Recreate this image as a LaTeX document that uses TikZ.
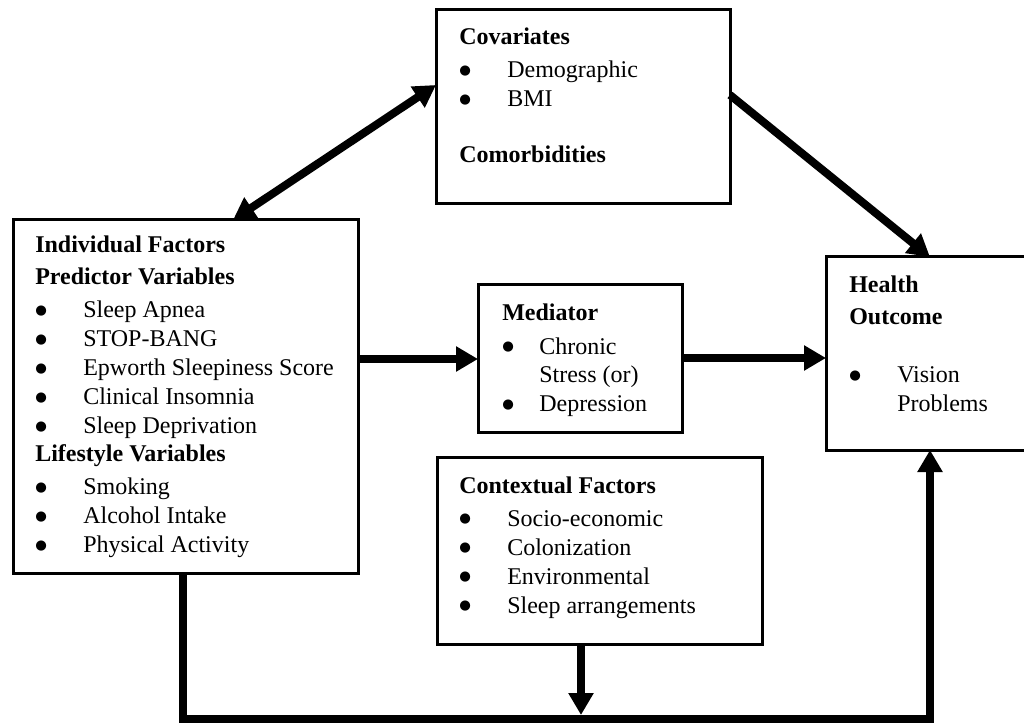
\documentclass[tikz,border=0pt]{standalone}
\usepackage{fontspec}
\setmainfont{Liberation Serif}
\newfontfamily\symf{DejaVu Sans}
\usetikzlibrary{arrows.meta,fit}
\newcommand\hd[1]{\hbox{\bfseries #1}}
\newcommand\bigbul{\raisebox{2.5pt}{\symf\fontsize{10pt}{10pt}\selectfont ●}}
\newcommand\itm[2][36pt]{\hbox{\makebox[#1][l]{\bigbul}#2}}
\newcommand\gap[1]{\vskip #1\relax}
\begin{document}
\begin{tikzpicture}[x=0.75pt,y=-0.75pt,
  >={Triangle[length=16.5pt,width=18pt]},
  box/.style={draw, line width=2.25pt, inner sep=0pt, outer sep=0pt, fill=white},
  txt/.style={anchor=base west, inner sep=0pt, font=\fontsize{18pt}{21.75pt}\selectfont},
  arr/.style={line width=6pt, ->},
  dbl/.style={line width=6pt, <->},
]
\useasboundingbox (0,0) rectangle (1024,723);
\fill[white] (0,0) rectangle (1024,723);
\clip (0,0) rectangle (1024,723);

% boxes
\node[box, fit={(436,10) (730,204)}] (cov) {};
\node[box, fit={(13,220) (358,573)}] (ind) {};
\node[box, fit={(478,285) (682,432)}] (med) {};
\node[box, fit={(826,257) (1040,450)}] (hea) {};
\node[box, fit={(437,457) (762,644)}] (ctx) {};

% texts
\node[txt] (covT) at (459,45) {\vtop{\hd{Covariates}\gap{3pt}\itm{Demographic}\itm{BMI}\gap{20.25pt}\hd{Comorbidities}}};
\node[txt] (indT) at (35,253) {\vtop{\hd{Individual Factors}\gap{2.25pt}\hd{Predictor Variables}\gap{3pt}\itm{Sleep Apnea}\itm{STOP-BANG}\itm{Epworth Sleepiness Score}\itm{Clinical Insomnia}\itm{Sleep Deprivation}\gap{-0.75pt}\hd{Lifestyle Variables}\gap{3pt}\itm{Smoking}\itm{Alcohol Intake}\itm{Physical Activity}}};
\node[txt] (medT) at (502,321) {\vtop{\hd{Mediator}\gap{3pt}\itm[27.75pt]{Chronic}\hbox{\hspace{27.75pt}Stress (or)}\itm[27.75pt]{Depression}}};
\node[txt] (heaT) at (849,293) {\vtop{\hd{Health}\gap{2.25pt}\hd{Outcome}\gap{21.75pt}\itm{Vision}\hbox{\hspace{36pt}Problems}}};
\node[txt] (ctxT) at (459,493) {\vtop{\hd{Contextual Factors}\gap{3pt}\itm{Socio-economic}\itm{Colonization}\itm{Environmental}\itm{Sleep arrangements}}};

% connectors
\coordinate (bl) at (183,719);
\coordinate (br) at (930,719);
\coordinate (bm) at (581,719);
\draw[dbl] (233,0 |- ind.north) -- (cov.west |- 0,85);
\draw[arr] (cov.east |- 0,95) -- (930,0 |- hea.north);
\draw[arr] (ind.east |- 0,359) -- (med.west |- 0,359);
\draw[arr] (med.east |- 0,358) -- (hea.west |- 0,358);
\draw[arr] (bl |- ind.south) -- (bl) -- (br) -- (br |- hea.south);
\draw[arr] (bm |- ctx.south) -- ([yshift=3pt]bm);
\end{tikzpicture}
\end{document}
